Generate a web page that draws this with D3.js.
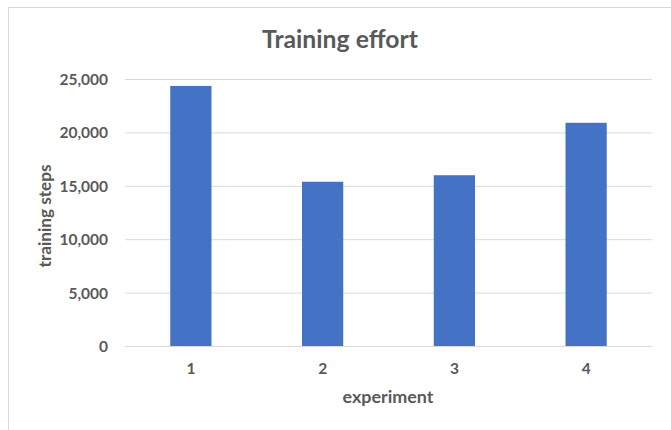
<!DOCTYPE html>
<html><head><meta charset="utf-8">
<script src="https://cdn.jsdelivr.net/npm/d3@7"></script>
<style>body{margin:0;background:#fff;} svg{display:block;} text{font-family:Lato,"Open Sans",sans-serif;}</style>
</head><body>
<svg id="c" width="671" height="430"></svg>
<script>
const categories = ["1","2","3","4"];
const values = [24350, 15380, 15990, 20900];
const yTicks = [0,5000,10000,15000,20000,25000];
const title = "Training effort";
const xTitle = "experiment";
const yTitle = "training steps";

const svg = d3.select("#c");
svg.append("rect").attr("x",8.5).attr("y",7.5).attr("width",700).attr("height",450)
  .attr("fill","#fff").attr("stroke","#d9d9d9");

const m = {left:125, right:652, top:79, bottom:346};
const x = d3.scaleBand().domain(categories).range([m.left,m.right]).paddingInner(0.687).paddingOuter(0.3435);
const y = d3.scaleLinear().domain([0,25000]).range([m.bottom,m.top]);

const fmt = d3.format(",");
const yAxis = svg.append("g").attr("transform",`translate(${m.left},0)`)
  .call(d3.axisLeft(y).tickValues(yTicks).tickFormat(fmt).tickSize(-(m.right-m.left)).tickPadding(17));
yAxis.select(".domain").remove();
yAxis.selectAll(".tick line").attr("stroke","#d9d9d9").attr("stroke-width",1);
yAxis.selectAll(".tick text").attr("fill","#595959").style("font-size","15.5px").style("font-weight","bold")
  .attr("dy","0.36em");

svg.append("g").selectAll("rect").data(values).join("rect")
  .attr("x",(d,i)=>x(categories[i])).attr("width",x.bandwidth())
  .attr("y",d=>y(d)).attr("height",d=>y(0)-y(d)).attr("fill","#4472c4");

const xAxis = svg.append("g").attr("transform",`translate(0,${m.bottom})`)
  .call(d3.axisBottom(x).tickSize(0).tickPadding(0));
xAxis.select(".domain").attr("stroke","#d9d9d9");
xAxis.selectAll(".tick text").attr("fill","#595959").style("font-size","15.5px").style("font-weight","bold")
  .attr("y",28).attr("dy",null);

function fit(sel, target){
  const w = sel.node().getComputedTextLength();
  const fs = parseFloat(sel.style("font-size"));
  sel.style("font-size",(fs*target/w).toFixed(2)+"px");
}
const t = svg.append("text").attr("x",340).attr("y",48).attr("text-anchor","middle")
  .attr("fill","#595959").style("font-size","24px").style("font-weight","bold").text(title);
fit(t,156);
const xt = svg.append("text").attr("x",388).attr("y",403).attr("text-anchor","middle")
  .attr("fill","#595959").style("font-size","17px").style("font-weight","bold").text(xTitle);
fit(xt,91);
const yt = svg.append("text").attr("transform","translate(51,216) rotate(-90)").attr("text-anchor","middle")
  .attr("fill","#595959").style("font-size","17px").style("font-weight","bold").text(yTitle);
fit(yt,103);
</script>
</body></html>
